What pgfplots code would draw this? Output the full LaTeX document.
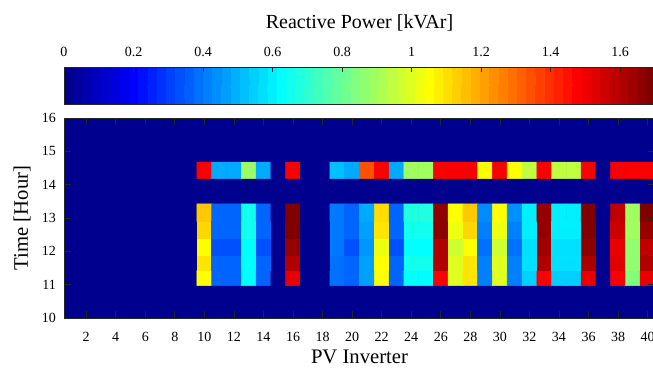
\documentclass[border=0pt]{standalone}
\usepackage{fontspec}
\setmainfont{Liberation Serif}
\usepackage{pgfplots}
\pgfplotsset{compat=1.18}
\definecolor{jetbase}{rgb}{0,0,0.5625}
\definecolor{axgray}{rgb}{0.15,0.15,0.15}
\pgfplotsset{/pgf/number format/assume math mode=true,
  colormap={matjet}{rgb(0pt)=(0,0,0.5625) rgb(7pt)=(0,0,1) rgb(23pt)=(0,1,1) rgb(39pt)=(1,1,0) rgb(55pt)=(1,0,0) rgb(63pt)=(0.5,0,0)},
  colormap={matjetsteps}{samples of colormap=(64 of matjet)},
}
\begin{document}
\begin{tikzpicture}
\useasboundingbox (-48pt,-41.25pt) rectangle (441.75pt,238.5pt);
\begin{axis}[
  scale only axis, width=443.25pt, height=150pt,
  at={(0,0)}, anchor=south west,
  xmin=0.5, xmax=40.5, ymin=10, ymax=16,
  xtick={2,4,...,40}, ytick={10,11,...,16},
  tick align=inside, major tick length=5pt,
  axis line style={axgray, line width=0.5pt},
  tick style={axgray, line width=0.5pt},
  axis on top,
  axis background/.style={fill=jetbase},
  ticklabel style={font=\fontsize{10.5}{12}\selectfont},
  xticklabel style={yshift=-7pt},
  yticklabel style={xshift=-2.5pt},
  xlabel={PV Inverter},
  ylabel={Time [Hour]},
  xlabel style={font=\fontsize{15.5}{18}\selectfont, at={(axis description cs:0.5,-0.195)}, anchor=center},
  ylabel style={font=\fontsize{15.5}{18}\selectfont, at={(axis description cs:-0.0711,0.5)}, anchor=center},
  colormap name=matjet,
  point meta min=0, point meta max=1.7,
  colorbar horizontal,
  colorbar/width=27.75pt,
  colorbar style={
    at={(0,1.07)}, anchor=south west,
    scale only axis, width=443.25pt,
    colormap name=matjetsteps, colormap access=piecewise constant,
    xtick={0,0.2,0.4,0.6,0.8,1,1.2,1.4,1.6},
    xtick pos=right, xticklabel pos=right,
    xtick align=inside, major tick length=4pt,
    axis line style={axgray, line width=0.5pt},
    tick style={axgray, line width=0.5pt},
    xticklabel style={font=\fontsize{10.5}{12}\selectfont, yshift=4.5pt},
    xlabel={Reactive Power [kVAr]},
    xlabel style={font=\fontsize{15}{18}\selectfont, at={(axis description cs:0.5,2.19)}, anchor=center},
  },
]
% block rows A..E (11-13.4 h), inverters 10..40
\addplot[matrix plot*, mesh/cols=31, point meta=explicit] table[meta=c, row sep=\\] {
x y c\\
10 11.195 1.052\\ 11 11.195 0.358\\ 12 11.195 0.358\\ 13 11.195 0.621\\ 14 11.195 0.358\\ 15 11.195 0\\ 16 11.195 1.523\\ 17 11.195 0\\ 18 11.195 0\\ 19 11.195 0.379\\
20 11.195 0.358\\ 21 11.195 0.460\\ 22 11.195 1.052\\ 23 11.195 0.358\\ 24 11.195 0.621\\ 25 11.195 0.621\\ 26 11.195 1.49\\ 27 11.195 0.999\\ 28 11.195 1.096\\ 29 11.195 0.405\\
30 11.195 0.999\\ 31 11.195 0.405\\ 32 11.195 0.541\\ 33 11.195 1.49\\ 34 11.195 0.541\\ 35 11.195 0.541\\ 36 11.195 1.523\\ 37 11.195 0\\ 38 11.195 1.49\\ 39 11.195 0.837\\ 40 11.195 1.523\\
10 11.645 1.096\\ 11 11.645 0.358\\ 12 11.645 0.358\\ 13 11.645 0.621\\ 14 11.645 0.358\\ 15 11.645 0\\ 16 11.645 1.618\\ 17 11.645 0\\ 18 11.645 0\\ 19 11.645 0.379\\
20 11.645 0.358\\ 21 11.645 0.460\\ 22 11.645 1.052\\ 23 11.645 0.358\\ 24 11.645 0.648\\ 25 11.645 0.648\\ 26 11.645 1.618\\ 27 11.645 0.999\\ 28 11.645 1.096\\ 29 11.645 0.405\\
30 11.645 0.999\\ 31 11.645 0.405\\ 32 11.645 0.568\\ 33 11.645 1.618\\ 34 11.645 0.568\\ 35 11.645 0.568\\ 36 11.645 1.628\\ 37 11.645 0\\ 38 11.645 1.537\\ 39 11.645 0.865\\ 40 11.645 1.618\\
10 12.125 1.052\\ 11 12.125 0.325\\ 12 12.125 0.325\\ 13 12.125 0.621\\ 14 12.125 0.325\\ 15 12.125 0\\ 16 12.125 1.662\\ 17 12.125 0\\ 18 12.125 0\\ 19 12.125 0.392\\
20 12.125 0.325\\ 21 12.125 0.443\\ 22 12.125 1.026\\ 23 12.125 0.325\\ 24 12.125 0.621\\ 25 12.125 0.621\\ 26 12.125 1.618\\ 27 12.125 0.973\\ 28 12.125 1.052\\ 29 12.125 0.379\\
30 12.125 0.973\\ 31 12.125 0.379\\ 32 12.125 0.568\\ 33 12.125 1.645\\ 34 12.125 0.568\\ 35 12.125 0.568\\ 36 12.125 1.678\\ 37 12.125 0\\ 38 12.125 1.523\\ 39 12.125 0.865\\ 40 12.125 1.591\\
10 12.64 1.120\\ 11 12.64 0.358\\ 12 12.64 0.358\\ 13 12.64 0.648\\ 14 12.64 0.358\\ 15 12.64 0\\ 16 12.64 1.70\\ 17 12.64 0\\ 18 12.64 0\\ 19 12.64 0.392\\
20 12.64 0.358\\ 21 12.64 0.460\\ 22 12.64 1.096\\ 23 12.64 0.358\\ 24 12.64 0.648\\ 25 12.64 0.648\\ 26 12.64 1.678\\ 27 12.64 1.026\\ 28 12.64 1.120\\ 29 12.64 0.405\\
30 12.64 1.026\\ 31 12.64 0.405\\ 32 12.64 0.595\\ 33 12.64 1.662\\ 34 12.64 0.595\\ 35 12.64 0.595\\ 36 12.64 1.70\\ 37 12.64 0\\ 38 12.64 1.570\\ 39 12.64 0.891\\ 40 12.64 1.662\\
10 13.16 1.146\\ 11 13.16 0.358\\ 12 13.16 0.358\\ 13 13.16 0.648\\ 14 13.16 0.358\\ 15 13.16 0\\ 16 13.16 1.70\\ 17 13.16 0\\ 18 13.16 0\\ 19 13.16 0.392\\
20 13.16 0.358\\ 21 13.16 0.477\\ 22 13.16 1.112\\ 23 13.16 0.358\\ 24 13.16 0.675\\ 25 13.16 0.675\\ 26 13.16 1.678\\ 27 13.16 1.052\\ 28 13.16 1.146\\ 29 13.16 0.426\\
30 13.16 1.052\\ 31 13.16 0.433\\ 32 13.16 0.595\\ 33 13.16 1.662\\ 34 13.16 0.595\\ 35 13.16 0.595\\ 36 13.16 1.70\\ 37 13.16 0\\ 38 13.16 1.591\\ 39 13.16 0.891\\ 40 13.16 1.70\\
};
% top row F (about 14.2-14.7 h) and an empty row above it
\addplot[matrix plot*, mesh/cols=31, point meta=explicit] table[meta=c, row sep=\\] {
x y c\\
10 14.435 1.49\\ 11 14.435 0.477\\ 12 14.435 0.477\\ 13 14.435 0.880\\ 14 14.435 0.477\\ 15 14.435 0\\ 16 14.435 1.49\\ 17 14.435 0\\ 18 14.435 0\\ 19 14.435 0.514\\
20 14.435 0.477\\ 21 14.435 1.349\\ 22 14.435 1.49\\ 23 14.435 0.477\\ 24 14.435 0.891\\ 25 14.435 0.891\\ 26 14.435 1.49\\ 27 14.435 1.49\\ 28 14.435 1.49\\ 29 14.435 1.052\\
30 14.435 1.49\\ 31 14.435 1.052\\ 32 14.435 0.946\\ 33 14.435 1.49\\ 34 14.435 0.946\\ 35 14.435 0.946\\ 36 14.435 1.49\\ 37 14.435 0\\ 38 14.435 1.49\\ 39 14.435 1.49\\ 40 14.435 1.49\\
10 14.945 0\\ 11 14.945 0\\ 12 14.945 0\\ 13 14.945 0\\ 14 14.945 0\\ 15 14.945 0\\ 16 14.945 0\\ 17 14.945 0\\ 18 14.945 0\\ 19 14.945 0\\
20 14.945 0\\ 21 14.945 0\\ 22 14.945 0\\ 23 14.945 0\\ 24 14.945 0\\ 25 14.945 0\\ 26 14.945 0\\ 27 14.945 0\\ 28 14.945 0\\ 29 14.945 0\\
30 14.945 0\\ 31 14.945 0\\ 32 14.945 0\\ 33 14.945 0\\ 34 14.945 0\\ 35 14.945 0\\ 36 14.945 0\\ 37 14.945 0\\ 38 14.945 0\\ 39 14.945 0\\ 40 14.945 0\\
};
\end{axis}
\end{tikzpicture}
\end{document}
